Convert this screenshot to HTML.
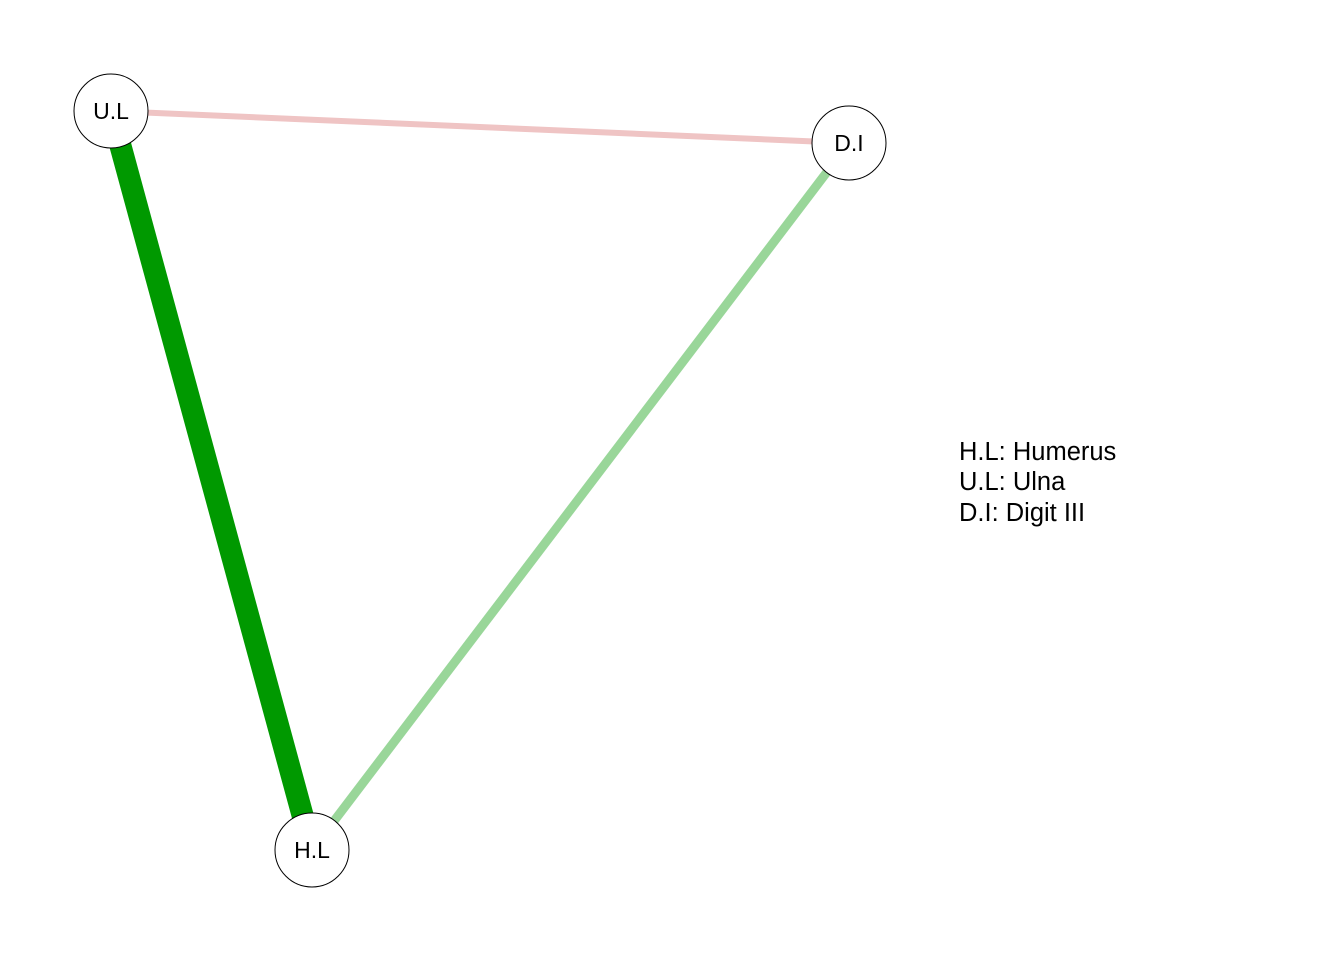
<!DOCTYPE html>
<html><head><meta charset="utf-8"><style>
html,body{margin:0;padding:0;background:#fff;}
svg{display:block;font-family:"Liberation Sans",Arial,sans-serif;}
</style></head><body>
<svg width="1344" height="960" viewBox="0 0 1344 960">
<g id="edges"></g><g id="nodes"></g>
<g font-size="25.5" fill="#000">
<text x="959" y="460">H.L: Humerus</text>
<text x="959" y="490">U.L: Ulna</text>
<text x="959" y="521">D.I: Digit III</text>
</g>
</svg>
<script>
const nodeLabels = ["H.L","U.L","D.I"];
const nodeX = [312,111,849];
const nodeY = [850,111,143];
const edgeFrom = [0,0,1];
const edgeTo = [1,2,2];
const edgeWeight = [0.9,0.4,0.3];
const edgeColor = ["#009900","#99D699","#EFC4C4"];
const ns="http://www.w3.org/2000/svg";
const eg=document.getElementById('edges'), ng=document.getElementById('nodes');
function widthOf(w){ return w>=0.8 ? 22*w/0.9 : (w>=0.35 ? 9*w/0.4 : 6*w/0.3); }
edgeFrom.forEach((f,i)=>{
  const l=document.createElementNS(ns,'line');
  l.setAttribute('x1',nodeX[f]);l.setAttribute('y1',nodeY[f]);
  l.setAttribute('x2',nodeX[edgeTo[i]]);l.setAttribute('y2',nodeY[edgeTo[i]]);
  l.setAttribute('stroke',edgeColor[i]);
  l.setAttribute('stroke-width',widthOf(edgeWeight[i]));
  
  
  eg.appendChild(l);
});
nodeLabels.forEach((n,i)=>{
  const g=document.createElementNS(ns,'g');
  
  
  const c=document.createElementNS(ns,'circle');
  c.setAttribute('cx',nodeX[i]);c.setAttribute('cy',nodeY[i]);c.setAttribute('r',37);
  c.setAttribute('fill','#fff');c.setAttribute('stroke','#000');c.setAttribute('stroke-width',1);
  const t=document.createElementNS(ns,'text');
  t.setAttribute('x',nodeX[i]);t.setAttribute('y',nodeY[i]+8);
  t.setAttribute('text-anchor','middle');t.setAttribute('font-size','23');
  t.textContent=n;
  g.appendChild(c);g.appendChild(t);ng.appendChild(g);
});
</script>
</body></html>
